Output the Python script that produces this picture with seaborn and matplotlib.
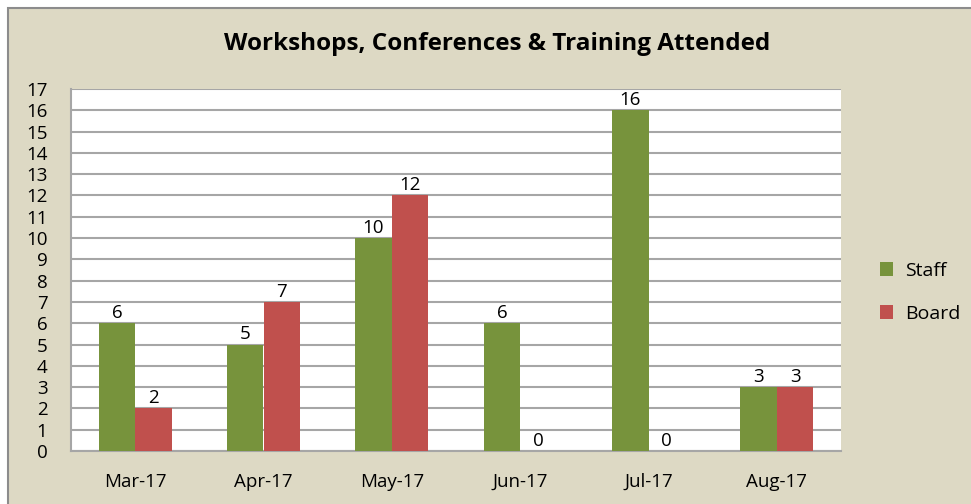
import matplotlib
matplotlib.use('Agg')
import matplotlib.pyplot as plt
import seaborn as sns
import pandas as pd
from matplotlib.patches import Rectangle

months = ['Mar-17', 'Apr-17', 'May-17', 'Jun-17', 'Jul-17', 'Aug-17']
staff = [6, 5, 10, 6, 16, 3]
board = [2, 7, 12, 0, 0, 3]
series_names = ['Staff', 'Board']

df = pd.DataFrame({
    'month': months * 2,
    'count': staff + board,
    'series': [series_names[0]] * len(months) + [series_names[1]] * len(months),
})

sns.set_theme(style='white')
plt.rcParams['font.family'] = ['Open Sans', 'DejaVu Sans']
plt.rcParams['text.color'] = 'black'
plt.rcParams['xtick.color'] = 'black'
plt.rcParams['ytick.color'] = 'black'

W, H = 971, 504
fig = plt.figure(figsize=(W / 100, H / 100), dpi=100, facecolor='white')
# beige chart area with grey border on top and left
fig.patches.append(Rectangle((8 / W, -0.01), 1.0, 1 - 8 / H + 0.01, transform=fig.transFigure,
                             facecolor='#DDD9C4', edgecolor='#8C8C8C', linewidth=1.5, zorder=-5))

ax = fig.add_axes([71 / W, 1 - 451 / H, (841 - 71) / W, (451 - 89) / H])
ax.set_facecolor('white')

sns.barplot(data=df, x='month', y='count', hue='series', palette=['#77933C', '#C0504D'],
            width=0.57, saturation=1, linewidth=0, ax=ax, zorder=3)

for c in ax.containers:
    ax.bar_label(c, fmt='%d', fontsize=13.5, padding=1)

ax.set_ylim(0, 17)
ax.set_yticks(range(0, 18))
ax.grid(axis='y', color='#A6A6A6', linewidth=1.5, zorder=0)
ax.set_axisbelow(True)
for s in ['top', 'right']:
    ax.spines[s].set_visible(False)
for s in ['left', 'bottom']:
    ax.spines[s].set_color('#A6A6A6')
    ax.spines[s].set_linewidth(1.5)
ax.tick_params(axis='y', length=0, pad=17, labelsize=13.5)
ax.tick_params(axis='x', length=0, pad=16, labelsize=13.5)
ax.set_xlabel('')
ax.set_ylabel('')

ax.legend(loc='center left', bbox_to_anchor=(0.888, 0.42), bbox_transform=fig.transFigure,
          frameon=False, fontsize=14, handlelength=0.7, handleheight=0.7, labelspacing=1.3,
          handletextpad=0.6)

fig.text(0.512, 1 - 44 / H, 'Workshops, Conferences & Training Attended', ha='center', va='center',
         fontsize=17.5, fontweight='bold')

fig.savefig('out.png', dpi=100, facecolor=fig.get_facecolor())
